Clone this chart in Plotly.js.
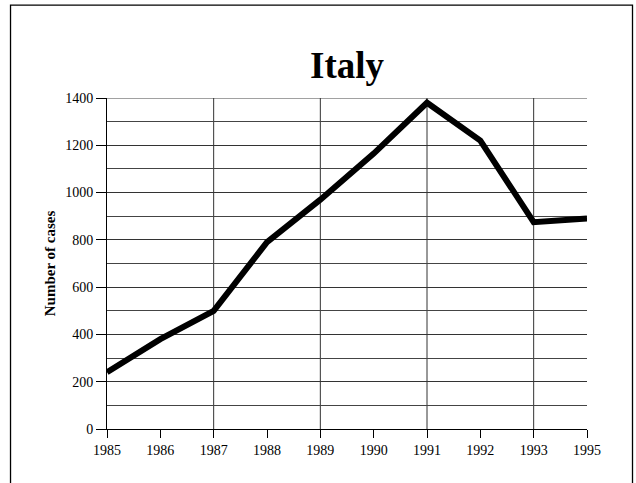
<!DOCTYPE html>
<html>
<head>
<meta charset="utf-8">
<script src="https://cdn.plot.ly/plotly-3.0.1.min.js"></script>
<style>
html,body{margin:0;padding:0;background:#fff;overflow:hidden;}
#chart{width:636px;height:483px;}
</style>
</head>
<body>
<div id="chart"></div>
<script>
var years = ['1985','1986','1987','1988','1989','1990','1991','1992','1993','1995'];
var cases = [240, 380, 500, 790, 970, 1165, 1380, 1220, 875, 890];
var gridYears = ['1987','1989','1991','1993'];
var yTicks = [0, 200, 400, 600, 800, 1000, 1200, 1400];
var yMax = 1400;

var font = 'Liberation Serif, Times New Roman, serif';

var shapes = gridYears.map(function(yr){
  var idx = years.indexOf(yr);
  return {type:'line', xref:'x', yref:'y', x0:idx, x1:idx, y0:0, y1:yMax,
          line:{color:'#333', width:1}, layer:'below'};
});
// top gridline (Plotly drops gridlines at the range edge)
shapes.push({type:'line', xref:'paper', yref:'y', x0:0, x1:1, y0:yMax, y1:yMax,
  line:{color:'#444', width:1}, layer:'below'});
// outer frame around the chart
shapes.push({type:'rect', xref:'paper', yref:'paper',
  x0:-0.201, x1:1.0948, y0:-0.3, y1:1.2805,
  line:{color:'#000', width:1.3}, fillcolor:'rgba(0,0,0,0)', layer:'below'});

var trace = {
  x: years, y: cases, type:'scatter', mode:'lines',
  line:{color:'#000', width:6}, hoverinfo:'none'
};

var layout = {
  width:636, height:483,
  margin:{l:107, r:49, t:97.5, b:54},
  paper_bgcolor:'#fff', plot_bgcolor:'rgba(0,0,0,0)',
  showlegend:false,
  font:{family:font, color:'#000', size:14},
  title:{text:'<b>Italy</b>', font:{family:font, size:37, color:'#000'},
         x:0.5, xanchor:'center', xref:'paper', y:0.865, yref:'container', yanchor:'middle'},
  xaxis:{type:'category', range:[0, years.length-1], showgrid:false,
         showline:true, linecolor:'#000', linewidth:1,
         ticks:'outside', ticklen:8, tickcolor:'#000', tickwidth:1,
         tickfont:{family:font, size:14, color:'#000'}, zeroline:false, fixedrange:true},
  yaxis:{range:[0,yMax], tickvals:yTicks, showgrid:true, gridcolor:'#333', gridwidth:1,
         minor:{dtick:100, showgrid:true, gridcolor:'#444', gridwidth:1},
         showline:true, linecolor:'#000', linewidth:1,
         ticks:'outside', ticklen:10, tickcolor:'#000', tickwidth:1,
         tickfont:{family:font, size:14, color:'#000'}, zeroline:false, fixedrange:true,
         title:{text:'<b>Number of cases</b>', font:{family:font, size:15, color:'#000'}, standoff:5}},
  shapes: shapes
};

Plotly.newPlot('chart', [trace], layout, {displayModeBar:false, staticPlot:true});
</script>
</body>
</html>
